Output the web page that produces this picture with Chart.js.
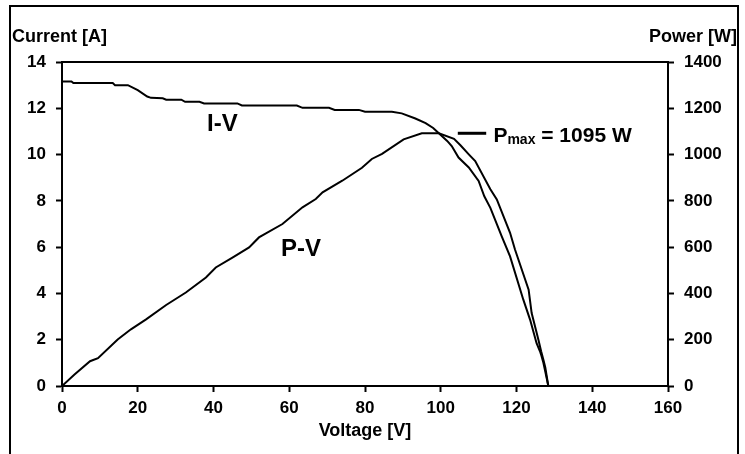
<!DOCTYPE html>
<html>
<head>
<meta charset="utf-8">
<script src="https://cdn.jsdelivr.net/npm/chart.js@4.4.0/dist/chart.umd.min.js"></script>
<style>
  html, body { margin: 0; padding: 0; background: #fff; }
  #wrap { position: relative; width: 745px; height: 454px; overflow: hidden; }
  #frame { position: absolute; left: 9px; top: 5px; width: 730px; height: 470px; border: 2px solid #000; box-sizing: border-box; }
  #myChart { position: absolute; left: 0; top: 0; }
</style>
</head>
<body>
<div id="wrap">
  <div id="frame"></div>
  <canvas id="myChart" width="745" height="454"></canvas>
</div>
<script>
// Curva I-V: tensão [V] e corrente [A]
const ivVoltage = [0, 2.5, 3, 13.4, 14, 17.4, 20, 22.5, 23.5, 26.6, 27.5, 31.5, 32.5, 36.3, 37.5, 46.3, 47.5, 62,
  63.5, 70.5, 72, 78.4, 80, 87.1, 89.7, 93.3, 96, 98, 99.5, 101.7, 102.9, 104.7, 107.4, 110, 111.5, 113.1,
  116.1, 118.3, 121.8, 123.6, 125.3, 126.2, 126.6, 127.1, 127.5, 128.4];
const ivCurrent = [13.16, 13.16, 13.09, 13.09, 13.0, 13.0, 12.78, 12.51, 12.45, 12.43, 12.37, 12.37, 12.28, 12.28, 12.21, 12.21, 12.12, 12.12,
  12.02, 12.02, 11.93, 11.93, 11.85, 11.85, 11.78, 11.56, 11.36, 11.15, 10.92, 10.59, 10.37, 9.87, 9.44, 8.86, 8.2, 7.70,
  6.47, 5.6, 3.73, 2.86, 1.85, 1.5, 1.3, 1.0, 0.7, 0];

// Curva P-V: tensão [V] e potência [W]
const pvVoltage = [0, 3.3, 7.4, 9.5, 14.7, 18.2, 22.2, 27.5, 32.7, 38, 40.6, 45, 49.4, 52, 58.2, 63.5, 67, 68.8,
  74, 79.2, 81.8, 84.5, 90.2, 95, 99.5, 103.5, 105.2, 107.4, 109.1, 113.1, 114.8, 118.3, 119.6, 123.2, 124,
  125.8, 126.5, 127.1, 127.6, 128.4];
const pvPower = [0, 50, 107, 120, 201, 245, 288, 350, 404, 469, 512, 555, 599, 642, 700, 772, 808, 837,
  887, 943, 981, 1003, 1066, 1092, 1092, 1068, 1040, 1001, 972, 850, 806, 662, 590, 416, 315,
  199, 150, 113, 80, 0];

// Marcador de Pmax
const pmaxVoltage = [104.5, 112];
const pmaxPower = [1092, 1092];

// Eixos
const xTicks = [0, 20, 40, 60, 80, 100, 120, 140, 160];
const currentTicks = [0, 2, 4, 6, 8, 10, 12, 14];
const powerTicks = [0, 200, 400, 600, 800, 1000, 1200, 1400];

const FONT = '"Liberation Sans", Arial, sans-serif';
const toPoints = (xs, ys) => xs.map((x, i) => ({ x, y: ys[i] }));

// Textos extras (títulos dos eixos e rótulos das curvas)
const labelPlugin = {
  id: 'labels',
  afterDraw(chart) {
    const { ctx, chartArea, scales } = chart;
    ctx.save();
    ctx.strokeStyle = '#000';
    ctx.lineWidth = 2;
    ctx.beginPath();
    ctx.moveTo(chartArea.left - 1, chartArea.top);
    ctx.lineTo(chartArea.right + 1, chartArea.top);
    ctx.stroke();

    ctx.fillStyle = '#000';
    ctx.textBaseline = 'alphabetic';
    ctx.font = `bold 18px ${FONT}`;
    ctx.textAlign = 'left';
    ctx.fillText('Current [A]', 12, 42);
    ctx.textAlign = 'right';
    ctx.fillText('Power [W]', 737, 42);

    ctx.textAlign = 'left';
    ctx.font = `bold 24px ${FONT}`;
    ctx.fillText('I-V', scales.x.getPixelForValue(38.3), scales.y.getPixelForValue(11.0));
    ctx.fillText('P-V', scales.x.getPixelForValue(57.8), scales.y.getPixelForValue(5.6));

    let px = scales.x.getPixelForValue(113.9);
    const py = scales.y.getPixelForValue(10.54);
    ctx.font = `bold 21px ${FONT}`;
    ctx.fillText('P', px, py);
    px += ctx.measureText('P').width;
    ctx.font = `bold 14px ${FONT}`;
    ctx.fillText('max', px, py + 2);
    px += ctx.measureText('max').width;
    ctx.font = `bold 21px ${FONT}`;
    ctx.fillText(' = 1095 W', px, py);
    ctx.restore();
  }
};

const axisStyle = {
  grid: { drawOnChartArea: false, drawTicks: true, tickLength: 6, tickColor: '#000', tickWidth: 2 },
  border: { display: true, color: '#000', width: 2 },
};
const tickFont = { family: FONT, size: 17, weight: 'bold' };

new Chart(document.querySelector('#myChart').getContext('2d'), {
  type: 'scatter',
  data: {
    datasets: [
      {
        label: 'I-V',
        data: toPoints(ivVoltage, ivCurrent),
        yAxisID: 'y',
        showLine: true,
        borderColor: '#000',
        borderWidth: 2,
        pointRadius: 0,
        tension: 0,
      },
      {
        label: 'P-V',
        data: toPoints(pvVoltage, pvPower),
        yAxisID: 'y2',
        showLine: true,
        borderColor: '#000',
        borderWidth: 2,
        pointRadius: 0,
        tension: 0,
      },
      {
        label: 'Pmax',
        data: toPoints(pmaxVoltage, pmaxPower),
        yAxisID: 'y2',
        showLine: true,
        borderColor: '#000',
        borderWidth: 3,
        pointRadius: 0,
      }
    ]
  },
  options: {
    responsive: false,
    animation: false,
    layout: { padding: { top: 62, left: 0, right: 0, bottom: 0 } },
    plugins: { legend: { display: false }, tooltip: { enabled: false } },
    scales: {
      x: {
        ...axisStyle,
        type: 'linear',
        min: 0,
        max: 160,
        afterBuildTicks: s => { s.ticks = xTicks.map(v => ({ value: v })); },
        afterFit: s => { s.height = 68; },
        ticks: { color: '#000', padding: 6, maxRotation: 0, font: tickFont, callback: v => String(v) },
        title: { display: true, text: 'Voltage [V]', color: '#000', padding: { top: 2, bottom: 12 }, font: { family: FONT, size: 18, weight: 'bold' } },
      },
      y: {
        ...axisStyle,
        position: 'left',
        min: 0,
        max: 14,
        afterBuildTicks: s => { s.ticks = currentTicks.map(v => ({ value: v })); },
        afterFit: s => { s.width = 62; },
        ticks: { color: '#000', padding: 10, font: tickFont, callback: v => String(v) },
      },
      y2: {
        ...axisStyle,
        position: 'right',
        min: 0,
        max: 1400,
        afterBuildTicks: s => { s.ticks = powerTicks.map(v => ({ value: v })); },
        afterFit: s => { s.width = 77; },
        ticks: { color: '#000', padding: 10, font: tickFont, callback: v => String(v) },
      }
    }
  },
  plugins: [labelPlugin]
});
</script>
</body>
</html>
